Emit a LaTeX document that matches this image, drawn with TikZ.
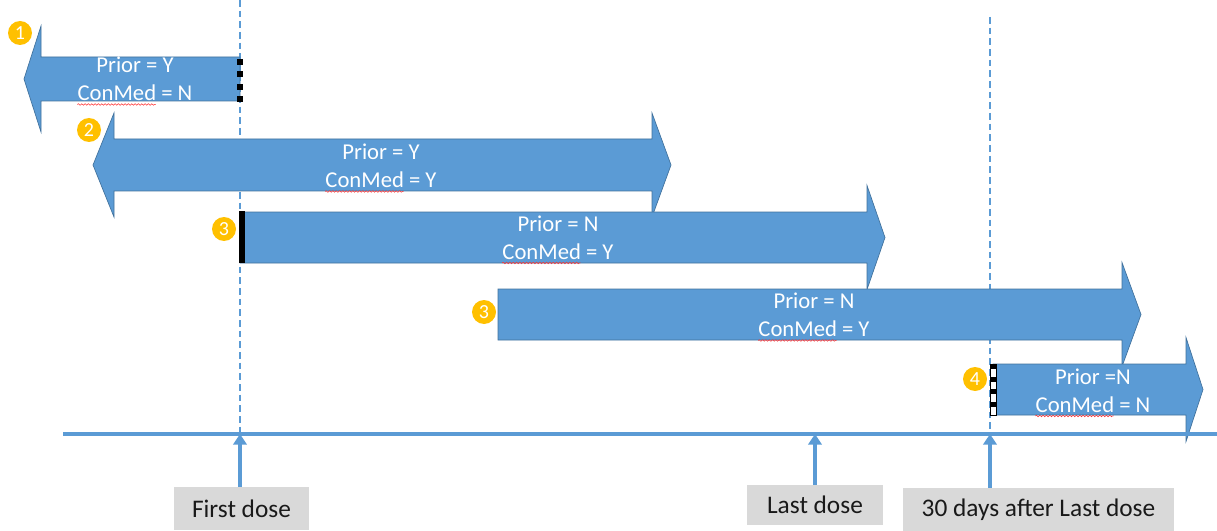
\documentclass[tikz,border=0pt]{standalone}
\usepackage{fontspec}
\setmainfont{Carlito}
\usetikzlibrary{arrows.meta, calc, decorations.pathmorphing}
\definecolor{BarBlue}{HTML}{5B9BD5}
\definecolor{BarEdge}{HTML}{41719C}
\definecolor{BadgeGold}{HTML}{FFC000}
\definecolor{LabelGrey}{HTML}{D9D9D9}
\tikzset{
  % Bar styles
  barshape/.style={fill=BarBlue, draw=BarEdge, line width=0.5pt, line join=miter},
  barlabel/.style={text=white, align=center, font=\fontsize{17}{21}\selectfont, inner sep=0pt},
  badge/.style={circle, fill=BadgeGold, text=white, minimum size=18pt, inner sep=0pt, font=\fontsize{15}{15}\selectfont},
  squiggle/.style={red!80, line width=0.4pt, decorate, decoration={snake, segment length=2.5pt, amplitude=0.6pt}},
  % Date labels
  datebox/.style={fill=LabelGrey, text=black!90, font=\fontsize{19}{22}\selectfont, inner sep=0pt, minimum height=32pt},
  % Line styles
  guide/.style={BarBlue, line width=1.4pt, dash pattern=on 5pt off 3pt},
  timeline/.style={BarBlue, line width=3pt},
  uparrow/.style={-{Triangle[width=10pt,length=8pt]}, BarBlue, line width=3pt}
}
\begin{document}
\begin{tikzpicture}[x=0.75pt, y=-0.75pt]
  \useasboundingbox (0,0) rectangle (1217,531);

  % Dose guides
  \coordinate (g1) at (240,0);
  \coordinate (g2) at (990,17);
  \coordinate (axis) at (63,434);
  \draw[guide] (g1) -- (240,432);
  \draw[guide] (g2) -- (990,432);

  % Left bar
  \draw[barshape] (240,57) -- (41,57) -- (41,26) -- (24,79) -- (41,132) -- (41,101) -- (240,101) -- cycle;
  % Double bar
  \draw[barshape] (114,139) -- (652,139) -- (652,113) -- (671,165) -- (652,217) -- (652,191)
    -- (114,191) -- (114,217) -- (93,165) -- (114,113) -- cycle;
  % Right bars
  \foreach \xa/\xb/\xt/\yc in {240/867/885/237.5, 498/1122/1141/314.5, 993/1186/1203/389.5} {
    \draw[barshape] (\xa,\yc-25.5) -- (\xb,\yc-25.5) -- (\xb,\yc-52) -- (\xt,\yc) -- (\xb,\yc+52)
      -- (\xb,\yc+25.5) -- (\xa,\yc+25.5) -- cycle;
  }

  % Edge marks
  \foreach \y in {62,74,87,99} {
    \fill (237,\y-3) rectangle ++(6,6);
  }
  \fill (239,211) rectangle (245,263);
  \draw[black, line width=0.5pt, fill=white] (990,364) rectangle (996,415);
  \foreach \y in {364,376.5,389,401.5} {
    \fill (990,\y) rectangle ++(6,5);
  }

  % Bar labels
  \node[barlabel] (lab1) at (135,79) {Prior = Y\\ConMed = N};
  \node[barlabel] (lab2) at (381,166) {Prior = Y\\ConMed = Y};
  \node[barlabel] (lab3) at (558,237.5) {Prior = N\\ConMed = Y};
  \node[barlabel] (lab4) at (814,315) {Prior = N\\ConMed = Y};
  \node[barlabel] (lab5) at (1093,390.5) {Prior =N\\ConMed = N};

  % Spelling marks under ConMed
  \fontsize{17}{21}\selectfont
  \pgfmathsetmacro{\cmw}{width("ConMed")}
  \foreach \n in {lab1,lab2,lab3,lab4,lab5} {
    \draw[squiggle] ([yshift=-2.5pt]\n.south west) -- ++(\cmw pt,0);
  }

  % Badges
  \node[badge] (b1) at (20,33) {1};
  \node[badge] (b2) at (89,130) {2};
  \node[badge] (b3) at (224,229) {3};
  \node[badge] (b4) at (484,312) {3};
  \node[badge] (b5) at (975,379) {4};

  % Time axis
  \draw[timeline] (axis) -- (1217,434);

  % Dates
  \node[datebox, minimum width=101pt] (first) at (241.5,508.5) {First dose};
  \node[datebox, minimum width=102pt, minimum height=30pt] (last) at (815,505) {Last dose};
  \node[datebox, minimum width=203pt] (after) at (1038.5,509.5) {30 days after Last dose};
  \draw[uparrow] (g1 |- first.north) -- (g1 |- axis);
  \draw[uparrow] (last.north) -- (last.north |- axis);
  \draw[uparrow] (g2 |- after.north) -- (g2 |- axis);
\end{tikzpicture}
\end{document}
